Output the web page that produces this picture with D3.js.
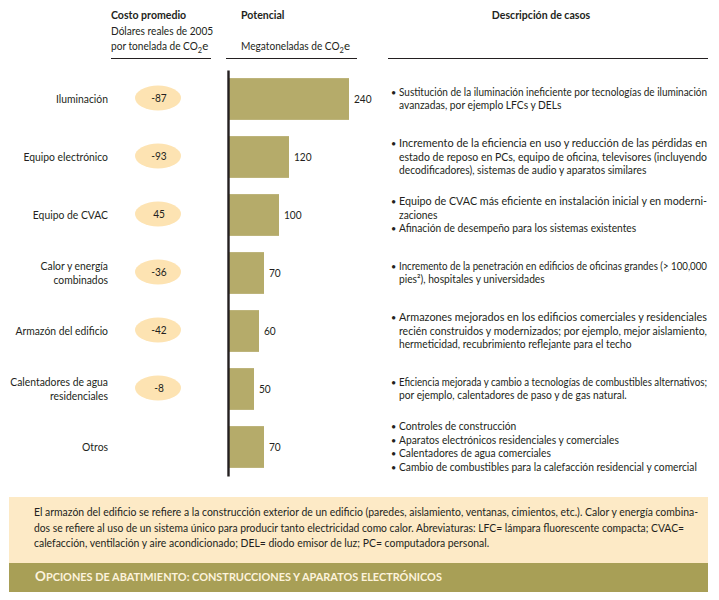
<!DOCTYPE html>
<html>
<head>
<meta charset="utf-8">
<script src="https://cdn.jsdelivr.net/npm/d3@7"></script>
<style>
  body { margin: 0; background: #fff; }
  text { font-family: Lato, "Open Sans", sans-serif; fill: #231f20; }
</style>
</head>
<body>
<script>
// datos
const categories = [["Iluminación"], ["Equipo electrónico"], ["Equipo de CVAC"], ["Calor y energía", "combinados"],
  ["Armazón del edificio"], ["Calentadores de agua", "residenciales"], ["Otros"]];
const costs = [-87, -93, 45, -36, -42, -8, null];
const potentials = [240, 120, 100, 70, 60, 50, 70];
const descriptions = [
  [["Sustitución de la iluminación ineficiente por tecnologías de iluminación", "avanzadas, por ejemplo LFCs y DELs"]],
  [["Incremento de la eficiencia en uso y reducción de las pérdidas en", "estado de reposo en PCs, equipo de oficina, televisores (incluyendo", "decodificadores), sistemas de audio y aparatos similares"]],
  [["Equipo de CVAC más eficiente en instalación inicial y en moderni-", "zaciones"], ["Afinación de desempeño para los sistemas existentes"]],
  [["Incremento de la penetración en edificios de oficinas grandes (> 100,000", "pies²), hospitales y universidades"]],
  [["Armazones mejorados en los edificios comerciales y residenciales", "recién construidos y modernizados; por ejemplo, mejor aislamiento,", "hermeticidad, recubrimiento reflejante para el techo"]],
  [["Eficiencia mejorada y cambio a tecnologías de combustibles alternativos;", "por ejemplo, calentadores de paso y de gas natural."]],
  [["Controles de construcción"], ["Aparatos electrónicos residenciales y comerciales"], ["Calentadores de agua comerciales"], ["Cambio de combustibles para la calefacción residencial y comercial"]]
];
const note = [
  "El armazón del edificio se refiere a la construcción exterior de un edificio (paredes, aislamiento, ventanas, cimientos, etc.). Calor y energía combina-",
  "dos se refiere al uso de un sistema único para producir tanto electricidad como calor. Abreviaturas: LFC= lámpara fluorescente compacta; CVAC=",
  "calefacción, ventilación y aire acondicionado; DEL= diodo emisor de luz; PC= computadora personal."
];
const title = "Opciones de abatimiento: construcciones y aparatos electrónicos";

const WIDTH = 719, HEIGHT = 600;
const SQUEEZE = 0.88;
const BAR = "#b5ab6a", OVAL = "#fde3b2", BEIGE = "#fdeac6", OLIVE = "#a89f56";

const svg = d3.select("body").append("svg").attr("width", WIDTH).attr("height", HEIGHT);

// comprime un texto horizontalmente (la fuente original es angosta)
function squeeze(sel, f) {
  sel.each(function () {
    const w = this.getComputedTextLength();
    d3.select(this).attr("textLength", w * f).attr("lengthAdjust", "spacingAndGlyphs");
  });
}
function justify(sel, w) {
  sel.attr("textLength", w).attr("lengthAdjust", "spacingAndGlyphs");
}

const idx = d3.range(categories.length);
const y = d3.scaleBand().domain(idx).range([70, 476]).paddingInner(0.28).paddingOuter(0.14);
const x = d3.scaleLinear().domain([0, 240]).range([229, 349]);
const mid = i => y(i) + y.bandwidth() / 2;

// encabezados
function co2(x0, y0, pre) {
  const tx = svg.append("text").attr("x", x0).attr("y", y0).attr("font-size", 11.5);
  tx.append("tspan").text(pre + "CO").call(squeeze, SQUEEZE);
  tx.append("tspan").text("2").attr("font-size", 7.5).attr("dy", 3);
  tx.append("tspan").text("e").attr("dy", -3);
}
svg.append("text").attr("x", 111).attr("y", 19).attr("font-size", 12).attr("font-weight", "bold")
  .text("Costo promedio").call(squeeze, SQUEEZE);
svg.append("text").attr("x", 111).attr("y", 35).attr("font-size", 11.5)
  .text("Dólares reales de 2005").call(squeeze, SQUEEZE);
co2(111, 50, "por tonelada de ");
svg.append("text").attr("x", 241).attr("y", 19).attr("font-size", 12).attr("font-weight", "bold")
  .text("Potencial").call(squeeze, SQUEEZE);
co2(241, 50, "Megatoneladas de ");
svg.append("text").attr("x", 541).attr("y", 19).attr("font-size", 12).attr("font-weight", "bold")
  .attr("text-anchor", "middle").text("Descripción de casos").call(squeeze, SQUEEZE);
[[111, 211], [226, 357], [388, 708]].forEach(([a, b]) =>
  svg.append("line").attr("x1", a).attr("x2", b).attr("y1", 58.5).attr("y2", 58.5)
    .attr("stroke", "#231f20").attr("stroke-width", 1.2));

// etiquetas de categoría
const rows = svg.append("g").selectAll("g").data(idx).join("g");
rows.each(function (i) {
  const lines = categories[i];
  lines.forEach((l, k) => {
    d3.select(this).append("text")
      .attr("x", 108).attr("y", mid(i) + 4 + (k - (lines.length - 1) / 2) * 14.5)
      .attr("text-anchor", "end").attr("font-size", 11.5)
      .text(l).call(squeeze, 0.9);
  });
});

// costo promedio en óvalos
const ov = svg.append("g").selectAll("g").data(idx.filter(i => costs[i] !== null)).join("g");
ov.append("ellipse").attr("cx", 158).attr("cy", i => mid(i) - 1).attr("rx", 23).attr("ry", 12.5).attr("fill", OVAL);
ov.append("text").attr("x", 159).attr("y", i => mid(i) + 3).attr("text-anchor", "middle")
  .attr("font-size", 11.5).text(i => costs[i]).call(squeeze, SQUEEZE);

// barras
svg.append("g").selectAll("rect").data(idx).join("rect")
  .attr("x", x(0)).attr("y", i => y(i)).attr("width", i => x(potentials[i]) - x(0))
  .attr("height", y.bandwidth()).attr("fill", BAR);
svg.append("g").selectAll("text").data(idx).join("text")
  .attr("x", i => x(potentials[i]) + 5).attr("y", i => mid(i) + 4).attr("font-size", 11.5)
  .text(i => potentials[i]).call(squeeze, SQUEEZE);

const axis = svg.append("g").attr("transform", "translate(228,0)")
  .call(d3.axisLeft(y).tickSize(0).tickFormat(""));
axis.select(".domain").attr("stroke", "#231f20").attr("stroke-width", 2.4);

// descripciones
const desc = svg.append("g");
idx.forEach(i => {
  const bullets = descriptions[i];
  const n = d3.sum(bullets, b => b.length);
  let k = 0;
  bullets.forEach(b => {
    b.forEach((l, j) => {
      const yy = mid(i) + 3.5 + (k - (n - 1) / 2) * 13.8;
      if (j === 0) desc.append("text").attr("x", 391).attr("y", yy).attr("font-size", 9).text("•");
      const t = desc.append("text").attr("x", 399).attr("y", yy).attr("font-size", 10.5).text(l);
      if (j < b.length - 1) justify(t, 308); else squeeze(t, 0.975);
      k++;
    });
  });
});

// nota al pie
svg.append("rect").attr("x", 9).attr("y", 497).attr("width", 699).attr("height", 66).attr("fill", BEIGE);
svg.append("rect").attr("x", 9).attr("y", 563).attr("width", 699).attr("height", 29).attr("fill", OLIVE);
let ratio = 1;
note.forEach((l, k) => {
  const t = svg.append("text").attr("x", 34).attr("y", 516 + k * 15.5).attr("font-size", 10.5).text(l);
  if (k === 0) { ratio = 664 / t.node().getComputedTextLength(); justify(t, 664); }
  else if (k === 1) justify(t, 650);
  else squeeze(t, ratio);
});
// título en versalitas
const tt = svg.append("text").attr("x", 35).attr("y", 581).attr("font-weight", "bold").style("fill", "#fdf3dc");
tt.append("tspan").attr("font-size", 13.5).text(title[0].toUpperCase());
tt.append("tspan").attr("font-size", 10.5).text(title.slice(1).toUpperCase()).call(justify, 396);
</script>
</body>
</html>
